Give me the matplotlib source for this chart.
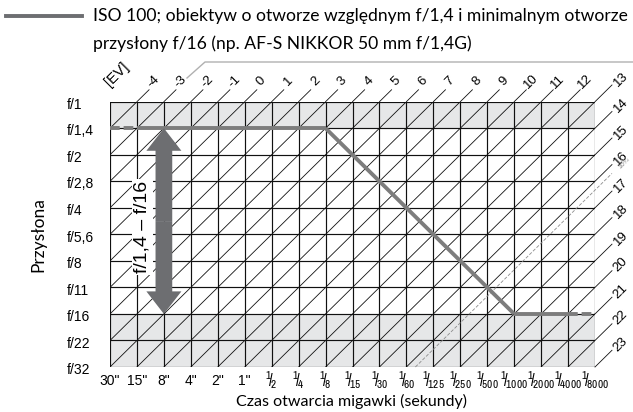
import matplotlib
matplotlib.use('Agg')
import numpy as np
import matplotlib.pyplot as plt
from matplotlib.lines import Line2D

# data
shutter_labels = ['30"', '15"', '8"', '4"', '2"', '1"', '1/2', '1/4', '1/8', '1/15', '1/30',
                  '1/60', '1/125', '1/250', '1/500', '1/1000', '1/2000', '1/4000', '1/8000']
aperture_labels = ['f/1', 'f/1,4', 'f/2', 'f/2,8', 'f/4', 'f/5,6', 'f/8', 'f/11', 'f/16',
                   'f/22', 'f/32']
ev_top = [-4, -3, -2, -1, 0, 1, 2, 3, 4, 5, 6, 7, 8, 9, 10, 11, 12]
ev_right = [13, 14, 15, 16, 17, 18, 19, 20, 21, 22, 23]
lens_range = ['f/1,4', 'f/16']
program_shutter = ['30"', '15"', '1/8', '1/1000', '1/4000', '1/8000']
program_aperture = ['f/1,4', 'f/1,4', 'f/1,4', 'f/16', 'f/16', 'f/16']
program_dashed = [True, False, False, False, True]
ev_limit = 16 + 1 / 3
ev_limit_label = '16⅓'
arrow_shutter = '8"'
arrow_text = 'f/1,4 – f/16'
legend_text = ['ISO 100; obiektyw o otworze względnym f/1,4 i minimalnym otworze',
               'przysłony f/16 (np. AF-S NIKKOR 50 mm f/1,4G)']

plt.rcParams['mathtext.fontset'] = 'custom'
plt.rcParams['mathtext.rm'] = 'Archivo Narrow'
plt.rcParams['mathtext.it'] = 'Archivo Narrow'
plt.rcParams['font.family'] = ['Liberation Sans', 'DejaVu Sans']
TXT = ['Lato', 'DejaVu Sans']

W, H = 633, 412
fig = plt.figure(figsize=(W / 100, H / 100), dpi=100)
ax = fig.add_axes([110 / W, 1 - 367 / H, 485 / W, 265.3 / H])
nx = len(shutter_labels) - 1
ny = len(aperture_labels) - 1
ax.set_xlim(0, nx)
ax.set_ylim(ny, 0)
ax.axis('off')

ev0 = shutter_labels.index('1"')   # EV = column + row - ev0

# shaded areas outside the lens range
r_lo = aperture_labels.index(lens_range[0])
r_hi = aperture_labels.index(lens_range[1])
ax.fill_between([0, nx], 0, r_lo, color='#e6e7e8', lw=0, zorder=0)
ax.fill_between([0, nx], r_hi, ny, color='#e6e7e8', lw=0, zorder=0)

# grid
for r in range(ny + 1):
    ax.plot([0, nx], [r, r], color='#111111', lw=0.85, zorder=1)
for c in range(nx + 1):
    ax.plot([c, c], [0, ny], color='#111111', lw=0.85, zorder=1)

# EV diagonals
for k in range(1, nx + ny):
    x0, x1 = max(0, k - ny), min(nx, k)
    ax.plot([x0, x1], [k - x0, k - x1], color='#111111', lw=0.6, zorder=1)

# top stubs and labels
for ev in ev_top:
    k = ev + ev0
    ax.plot([k, k + 0.45], [0, -0.45], color='#111111', lw=0.6, clip_on=False)
    ax.text(k + 0.62, -0.76, str(ev), rotation=45, fontsize=9.5, ha='center', va='center',
            clip_on=False)
ax.text(0.25, -1.02, '[EV]', rotation=45, fontsize=10.5, ha='center', va='center')

# right stubs and labels
for ev in ev_right:
    r = ev + ev0 - nx
    ax.plot([nx, nx + 0.63], [r, r - 0.63], color='#111111', lw=0.6, clip_on=False)
    ax.text(nx + 0.95, r - 0.85, str(ev), rotation=45, fontsize=9.5, ha='center',
            va='center', clip_on=False)

# EV limit dashed line
k = ev_limit + ev0
ax.plot([k - ny, nx + 0.63], [ny, k - nx - 0.63], color='#8c8c8c', lw=0.6,
        ls=(0, (4, 2)), clip_on=False, zorder=2)
ax.text(nx + 1.1, k - nx - 1.0, ev_limit_label, rotation=45, fontsize=5, color='#8c8c8c',
        ha='center', va='center', clip_on=False)

# program line
px = [shutter_labels.index(s) for s in program_shutter]
py = [aperture_labels.index(a) for a in program_aperture]
for i, dashed in enumerate(program_dashed):
    ax.plot(px[i:i + 2], py[i:i + 2], color='#7d7d7d', lw=2.8,
            ls=(0, (2.5, 1)) if dashed else '-', solid_capstyle='butt', zorder=4)

# double arrow for the aperture range
ax_x = shutter_labels.index(arrow_shutter)
mid = (r_lo + r_hi) / 2
for end in (r_lo, r_hi):
    ax.arrow(ax_x, mid, 0, end - mid, width=0.62, head_width=1.3, head_length=0.85,
             length_includes_head=True, color='#6d6e71', lw=0, zorder=5)
ax.text(1.2, 4.73, arrow_text, rotation=90, fontsize=14, ha='center', va='center',
        zorder=3, bbox=dict(facecolor='white', edgecolor='none', pad=1.5))

# axis labels
for r, lab in enumerate(aperture_labels):
    ax.text(-1.6, r + 0.12, lab, fontsize=10, ha='left', va='center', clip_on=False)
for c, lab in enumerate(shutter_labels):
    if lab.startswith('1/'):
        lab = r'$^{1}\!/\!_{%s}$' % lab[2:]
        ax.text(c, 10.5, lab, fontsize=11.5, ha='center', va='center', clip_on=False)
    else:
        ax.text(c, 10.53, lab, fontsize=10, ha='center', va='center', clip_on=False)

fig.text(352 / W, 1 - 401 / H, 'Czas otwarcia migawki (sekundy)', family=TXT, fontsize=11.5,
         ha='center', va='center')
fig.text(38 / W, 1 - 235 / H, 'Przysłona', family=TXT, fontsize=12.5, rotation=90,
         ha='center', va='center')

# legend
fig.add_artist(Line2D([6 / W, 82 / W], [1 - 16 / H, 1 - 16 / H], color='#6d6e71', lw=2.8))
fig.text(93 / W, 1 - 16 / H, legend_text[0], family=TXT, fontsize=12.6, va='center')
fig.text(93 / W, 1 - 44 / H, legend_text[1], family=TXT, fontsize=12.6, va='center')

# frame line
fig.add_artist(Line2D([187 / W, 205 / W, 1.0], [1 - 78 / H, 1 - 62 / H, 1 - 62 / H],
                      color='#b0b0b0', lw=1))

fig.savefig('out.png', dpi=100)
